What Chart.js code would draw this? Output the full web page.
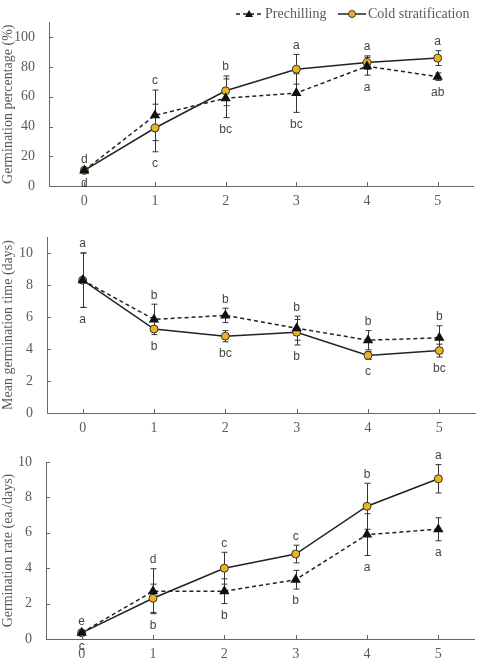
<!DOCTYPE html>
<html>
<head>
<meta charset="UTF-8">
<title>Germination</title>
<script src="https://cdn.jsdelivr.net/npm/chart.js"></script>
<style>
  body { margin: 0; background: #fff; }
  canvas { position: absolute; left: 0; }
</style>
</head>
<body>
<canvas id="c1" width="481" height="212" style="top:0px"></canvas>
<canvas id="c2" width="481" height="226" style="top:212px"></canvas>
<canvas id="c3" width="481" height="229" style="top:438px"></canvas>
<script>
const levels = [0, 1, 2, 3, 4, 5];

// Germination percentage (%)
const gpPre = [10.5, 47.5, 59, 62.5, 80.5, 73.5];
const gpPreErr = [1, 17, 13, 13, 6, 2.5];
const gpCold = [10.5, 39, 64, 78.5, 83, 86];
const gpColdErr = [1, 16, 10, 10, 4.5, 5];
const gpUp = ["d", "c", "b", "a", "a", "a"];
const gpDown = ["d", "c", "bc", "bc", "a", "ab"];

// Mean germination time (days)
const mtPre = [8.3, 5.85, 6.1, 5.3, 4.55, 4.7];
const mtPreErr = [1.7, 0.95, 0.45, 0.75, 0.6, 0.75];
const mtCold = [8.3, 5.25, 4.8, 5.05, 3.6, 3.9];
const mtColdErr = [1.7, 0.15, 0.35, 0.8, 0.25, 0.4];
const mtUp = ["a", "b", "b", "b", "b", "b"];
const mtDown = ["a", "b", "bc", "b", "c", "bc"];

// Germination rate (ea./days)
const grPre = [0.35, 2.7, 2.7, 3.35, 5.9, 6.2];
const grPreErr = [0.1, 1.27, 0.7, 0.53, 1.18, 0.65];
const grCold = [0.35, 2.3, 4.0, 4.8, 7.5, 9.05];
const grColdErr = [0.1, 0.8, 0.9, 0.5, 1.3, 0.8];
const grUp = ["e", "d", "c", "c", "b", "a"];
const grDown = ["c", "b", "b", "b", "a", "a"];

const GOLD = "#EDB31E";
const INK = "#222";
const GREY = "#5a5a5a";
const SERIF = "'Liberation Serif', 'DejaVu Serif', serif";

const extras = {
  id: "extras",
  beforeDatasetsDraw(chart, args, opts) {
    const { ctx } = chart;
    const xs = chart.scales.x, ys = chart.scales.y;
    ctx.save();
    ctx.strokeStyle = "#333";
    ctx.lineWidth = 1;
    chart.data.datasets.forEach((ds, d) => {
      ds.data.forEach((p, i) => {
        const e = opts.errs[d][i];
        const px = Math.round(xs.getPixelForValue(p.x)) + 0.5;
        const t = ys.getPixelForValue(p.y + e);
        const b = ys.getPixelForValue(p.y - e);
        ctx.beginPath();
        ctx.moveTo(px, t); ctx.lineTo(px, b);
        ctx.moveTo(px - 3, t); ctx.lineTo(px + 3, t);
        ctx.moveTo(px - 3, b); ctx.lineTo(px + 3, b);
        ctx.stroke();
      });
    });
    ctx.restore();
  },
  afterDraw(chart, args, opts) {
    const { ctx, chartArea } = chart;
    const xs = chart.scales.x, ys = chart.scales.y;
    ctx.save();
    // inward tick marks
    ctx.strokeStyle = "#666";
    ctx.lineWidth = 1;
    ctx.beginPath();
    xs.ticks.forEach(t => {
      const px = Math.round(xs.getPixelForValue(t.value)) + 0.5;
      ctx.moveTo(px, chartArea.bottom); ctx.lineTo(px, chartArea.bottom - 4);
    });
    ys.ticks.forEach(t => {
      const py = Math.round(ys.getPixelForValue(t.value)) + 0.5;
      ctx.moveTo(chartArea.left, py); ctx.lineTo(chartArea.left + 4, py);
    });
    ctx.stroke();

    // significance letters
    ctx.fillStyle = "#444";
    ctx.font = "12px 'Liberation Sans', Arial, sans-serif";
    ctx.textAlign = "center";
    ctx.textBaseline = "middle";
    const sets = chart.data.datasets;
    levels.forEach((lv, i) => {
      let hi = -Infinity, lo = Infinity;
      sets.forEach((ds, d) => {
        hi = Math.max(hi, ds.data[i].y + opts.errs[d][i]);
        lo = Math.min(lo, ds.data[i].y - opts.errs[d][i]);
      });
      const px = xs.getPixelForValue(lv);
      ctx.fillText(opts.up[i], px, ys.getPixelForValue(hi) - 9);
      ctx.fillText(opts.down[i], px, ys.getPixelForValue(lo) + 12);
    });

    // legend
    if (opts.legend) {
      const ly = 14;
      ctx.strokeStyle = INK;
      ctx.lineWidth = 1.5;
      ctx.setLineDash([4, 3]);
      ctx.beginPath(); ctx.moveTo(236, ly); ctx.lineTo(262, ly); ctx.stroke();
      ctx.setLineDash([]);
      ctx.fillStyle = "#111";
      ctx.beginPath();
      ctx.moveTo(249, ly - 4); ctx.lineTo(253, ly + 3); ctx.lineTo(245, ly + 3);
      ctx.closePath(); ctx.fill();
      ctx.beginPath(); ctx.moveTo(338, ly); ctx.lineTo(366, ly); ctx.stroke();
      ctx.fillStyle = GOLD;
      ctx.strokeStyle = "#333";
      ctx.lineWidth = 1;
      ctx.beginPath(); ctx.arc(352, ly, 3.5, 0, Math.PI * 2); ctx.fill(); ctx.stroke();
      ctx.fillStyle = GREY;
      ctx.font = "14px " + SERIF;
      ctx.textAlign = "left";
      ctx.fillText("Prechilling", 265, ly);
      ctx.fillText("Cold stratification", 368, ly);
    }
    ctx.restore();
  }
};

function makeChart(id, pre, preErr, cold, coldErr, up, down, cfg) {
  return new Chart(document.getElementById(id), {
    type: "line",
    data: {
      datasets: [
        {
          label: "Prechilling",
          data: levels.map((x, i) => ({ x: x, y: pre[i] })),
          borderColor: INK,
          borderWidth: 1.5,
          borderDash: [4, 3],
          pointStyle: "triangle",
          pointRadius: 4.5,
          pointBackgroundColor: "#111",
          pointBorderColor: "#111",
          tension: 0
        },
        {
          label: "Cold stratification",
          data: levels.map((x, i) => ({ x: x, y: cold[i] })),
          borderColor: INK,
          borderWidth: 1.5,
          pointStyle: "circle",
          pointRadius: 4,
          pointBackgroundColor: GOLD,
          pointBorderColor: "#333",
          pointBorderWidth: 1,
          tension: 0
        }
      ]
    },
    options: {
      responsive: false,
      animation: false,
      devicePixelRatio: 1,
      layout: { padding: { top: cfg.top, right: cfg.right, left: 0, bottom: 0 } },
      plugins: {
        legend: { display: false },
        tooltip: { enabled: false },
        extras: { errs: [preErr, coldErr], up: up, down: down, legend: cfg.legend }
      },
      scales: {
        x: {
          type: "linear",
          min: -0.5,
          max: 5.5,
          grid: { display: false, drawTicks: false },
          border: { color: "#666", width: 1 },
          ticks: { padding: 7, maxRotation: 0, color: GREY, font: { family: SERIF, size: 14 } },
          afterBuildTicks: s => { s.ticks = levels.map(v => ({ value: v })); },
          afterFit: s => { s.height = cfg.xh; }
        },
        y: {
          min: 0,
          max: cfg.max,
          grid: { display: false, drawTicks: false },
          border: { color: "#666", width: 1 },
          ticks: { stepSize: cfg.step, includeBounds: false, padding: 14, color: GREY, font: { family: SERIF, size: 14 } },
          title: { display: true, text: cfg.title, color: GREY, padding: { top: 0, bottom: 0 }, font: { family: SERIF, size: 14 } },
          afterFit: s => { s.width = cfg.yw; }
        }
      }
    },
    plugins: [extras]
  });
}

makeChart("c1", gpPre, gpPreErr, gpCold, gpColdErr, gpUp, gpDown,
  { top: 22, right: 8, xh: 26, yw: 49, max: 110, step: 20, title: "Germination percentage (%)", legend: true });
makeChart("c2", mtPre, mtPreErr, mtCold, mtColdErr, mtUp, mtDown,
  { top: 25, right: 6, xh: 25, yw: 47, max: 11, step: 2, title: "Mean germination time (days)", legend: false });
makeChart("c3", grPre, grPreErr, grCold, grColdErr, grUp, grDown,
  { top: 24, right: 7, xh: 28, yw: 46, max: 10, step: 2, title: "Germination rate (ea./days)", legend: false });
</script>
</body>
</html>
